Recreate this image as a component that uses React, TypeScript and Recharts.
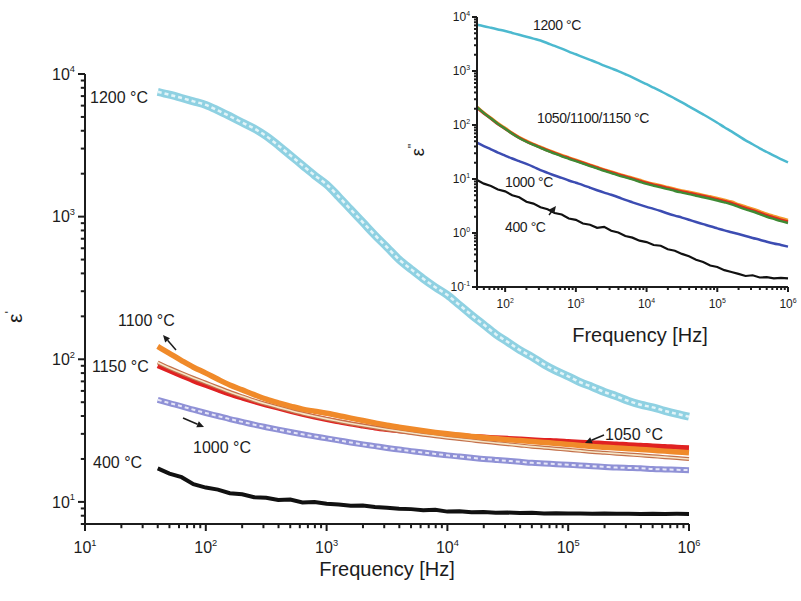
import React from "react";
import { LineChart, Line, XAxis, YAxis } from "recharts";

// frequency grid, Hz (same for main plot and inset)
const FREQ = [
  40, 50, 63, 79, 100, 126, 158, 200, 251, 316, 398, 501, 631, 794, 1000, 1259, 1585, 1995, 2512, 3162,
  3981, 5012, 6310, 7943, 10000, 12589, 15849, 19953, 25119, 31623, 39811, 50119, 63096, 79433, 100000,
  125893, 158489, 199526, 251189, 316228, 398107, 501187, 630957, 794328, 1000000,
];

// main plot: real permittivity
const EPS1_1200 = [
  7500, 7160, 6790, 6430, 6070, 5560, 5060, 4570, 4150, 3670, 3160, 2690, 2290, 1950, 1680, 1380, 1120, 912,
  741, 610, 500, 427, 367, 320, 282, 240, 204, 175, 150, 132, 116, 104, 92, 83, 76, 69, 64, 59, 55, 51, 48,
  46, 43.5, 41.4, 39.6,
];
const EPS1_1100 = [
  123, 110, 98, 88, 80, 72.4, 66, 61, 56.5, 52.5, 49.5, 47, 44.7, 43.2, 41.8, 40.2, 38.7, 37.2, 35.8, 34.5,
  33.4, 32.4, 31.5, 30.7, 30.0, 29.4, 28.8, 28.3, 27.8, 27.3, 26.9, 26.5, 26.1, 25.7, 25.3, 24.9, 24.5, 24.2,
  23.9, 23.6, 23.3, 23.0, 22.7, 22.4, 22.1,
];
const EPS1_1150 = [
  95, 87, 80, 74, 68.5, 63.5, 59, 55, 51.5, 48.5, 46, 43.7, 41.6, 39.8, 38.2, 36.8, 35.5, 34.3, 33.2, 32.2,
  31.3, 30.4, 29.6, 28.9, 28.2, 27.6, 27, 26.4, 25.9, 25.4, 24.9, 24.4, 24, 23.6, 23.2, 22.8, 22.4, 22.1,
  21.8, 21.5, 21.2, 20.9, 20.6, 20.3, 20.0,
];
const EPS1_1050 = [
  90, 83, 76.5, 70.5, 65.5, 61, 57, 53.5, 50.5, 47.8, 45.4, 43.2, 41.2, 39.4, 37.8, 36.4, 35.1, 34, 33, 32.2,
  31.5, 30.9, 30.4, 30, 29.6, 29.2, 28.8, 28.5, 28.2, 27.9, 27.6, 27.3, 27, 26.8, 26.5, 26.2, 26, 25.7, 25.5,
  25.2, 25, 24.7, 24.5, 24.2, 24.0,
];
const EPS1_1000 = [
  52, 49.3, 46.8, 44.3, 42, 40, 38.1, 36.4, 34.8, 33.4, 32.1, 30.9, 29.8, 28.8, 27.9, 27, 26.1, 25.3, 24.6,
  23.9, 23.3, 22.7, 22.2, 21.7, 21.2, 20.8, 20.4, 20, 19.7, 19.4, 19.1, 18.8, 18.6, 18.4, 18.2, 18, 17.8,
  17.6, 17.4, 17.3, 17.2, 17.0, 16.9, 16.8, 16.7,
];
const EPS1_400 = [
  17.2, 15.8, 14.9, 13.3, 12.6, 12.2, 11.5, 11.3, 10.8, 10.7, 10.3, 10.4, 9.9, 10.0, 9.7, 9.6, 9.4, 9.45,
  9.2, 9.1, 8.95, 8.9, 8.75, 8.8, 8.55, 8.6, 8.45, 8.5, 8.4, 8.42, 8.35, 8.38, 8.3, 8.33, 8.28, 8.3, 8.26,
  8.28, 8.25, 8.27, 8.24, 8.26, 8.23, 8.25, 8.24,
];

// inset: imaginary permittivity
const EPS2_1200 = [
  7160, 6760, 6310, 5890, 5500, 5070, 4680, 4315, 3980, 3670, 3270, 2920, 2590, 2290, 2040, 1810, 1610, 1430,
  1260, 1120, 995, 871, 759, 653, 569, 490, 422, 363, 309, 263, 221, 186, 157, 132, 110, 91, 76, 63, 52, 44,
  37, 31.6, 27, 23.4, 20.4,
];
const EPS2_1100 = [
  218, 169, 135, 108, 88, 71.5, 59.5, 51, 44.5, 39.3, 34.7, 31, 27.7, 25, 22.6, 20.4, 18.4, 16.6, 15, 13.7,
  12.5, 11.4, 10.5, 9.6, 8.75, 8.1, 7.6, 7.05, 6.55, 6.1, 5.75, 5.4, 5.05, 4.75, 4.45, 4.1, 3.8, 3.4, 3.08,
  2.8, 2.52, 2.26, 2.06, 1.88, 1.74,
];
const EPS2_1050 = [
  210, 164, 131, 104, 85, 69.5, 58, 49.7, 43.5, 38.4, 33.9, 30.3, 27, 24.4, 22.0, 19.9, 17.9, 16.2, 14.6,
  13.3, 12.1, 11.1, 10.15, 9.25, 8.45, 7.8, 7.3, 6.8, 6.3, 5.85, 5.5, 5.15, 4.85, 4.5, 4.2, 3.9, 3.6, 3.22,
  2.9, 2.64, 2.37, 2.12, 1.93, 1.76, 1.62,
];
const EPS2_1150 = [
  214, 166, 132, 105, 85, 69, 57.5, 49, 42.7, 37.6, 33.1, 29.5, 26.3, 23.7, 21.4, 19.3, 17.4, 15.7, 14.1,
  12.9, 11.7, 10.7, 9.8, 8.9, 8.1, 7.5, 7.0, 6.5, 6.0, 5.6, 5.25, 4.9, 4.6, 4.3, 4.0, 3.7, 3.4, 3.05, 2.75,
  2.5, 2.24, 2.0, 1.82, 1.66, 1.53,
];
const EPS2_1000 = [
  47, 40.7, 35.5, 30.9, 27.2, 24, 21.4, 19, 16.8, 14.6, 13, 11.6, 10.5, 9.4, 8.5, 7.7, 6.9, 6.2, 5.6, 5.1,
  4.6, 4.1, 3.7, 3.35, 3.05, 2.8, 2.55, 2.3, 2.1, 1.93, 1.76, 1.6, 1.46, 1.33, 1.22, 1.12, 1.035, 0.955,
  0.88, 0.81, 0.75, 0.69, 0.64, 0.6, 0.56,
];
const EPS2_400 = [
  9.6, 8.2, 7.4, 6.4, 5.9, 5.0, 4.6, 3.8, 3.5, 3.0, 2.75, 2.35, 2.2, 1.85, 1.75, 1.5, 1.42, 1.25, 1.3, 1.1,
  1.02, 0.88, 0.82, 0.72, 0.68, 0.6, 0.58, 0.5, 0.47, 0.41, 0.37, 0.32, 0.29, 0.25, 0.235, 0.205, 0.19,
  0.175, 0.16, 0.165, 0.15, 0.152, 0.145, 0.148, 0.145,
];

// axis decades
const MAIN_X_MAJOR = [10, 100, 1000, 10000, 100000, 1000000];
const MAIN_Y_MAJOR = [10, 100, 1000, 10000];
const INSET_X_MAJOR = [100, 1000, 10000, 100000, 1000000];
const INSET_Y_MAJOR = [0.1, 1, 10, 100, 1000, 10000];
const MINOR_STEPS = [2, 3, 4, 5, 6, 7, 8, 9];

const MAIN_X_DOMAIN = [10, 1000000];
const MAIN_Y_DOMAIN = [7, 10000];
const INSET_X_DOMAIN = [40, 1000000];
const INSET_Y_DOMAIN = [0.1, 10000];

const FONT = "'Liberation Sans', Arial, sans-serif";
const INK = "#1c1c1c";

// plot rectangles (page pixels), must match the chart margins below
const MAIN_BOX = { left: 85, right: 689, top: 74, bottom: 524 };
const INSET_BOX = { left: 477, right: 788, top: 17, bottom: 287 };

// majors plus 2..9 x decade minors that fall inside [lo, hi]
const withMinors = (majors: number[], lo: number, hi: number) => {
  const all: number[] = [...majors];
  [majors[0] / 10, ...majors].forEach((d) => MINOR_STEPS.forEach((m) => all.push(m * d)));
  return all.filter((v) => v >= lo - 1e-9 && v <= hi + 1e-9).sort((a, b) => a - b);
};

const mainData = FREQ.map((f, i) => ({
  f,
  c1200: EPS1_1200[i],
  c1100: EPS1_1100[i],
  c1150: EPS1_1150[i],
  c1050: EPS1_1050[i],
  c1000: EPS1_1000[i],
  c400: EPS1_400[i],
}));

const insetData = FREQ.map((f, i) => ({
  f,
  c1200: EPS2_1200[i],
  c1100: EPS2_1100[i],
  c1050: EPS2_1050[i],
  c1150: EPS2_1150[i],
  c1000: EPS2_1000[i],
  c400: EPS2_400[i],
}));

const isMajor = (v: number) => {
  const e = Math.log10(v);
  return Math.abs(e - Math.round(e)) < 1e-6;
};
const expOf = (v: number) => Math.round(Math.log10(v));

const makeXLabel = (fs: number, dy: number) => (props: any) => {
  const { x, y, payload } = props;
  if (!isMajor(payload.value)) return <g />;
  return (
    <text x={x} y={y + dy} textAnchor="middle" fontSize={fs} fill={INK} fontFamily={FONT}>
      10
      <tspan dy={-fs * 0.45} fontSize={fs * 0.58}>
        {expOf(payload.value)}
      </tspan>
    </text>
  );
};

const makeYLabel = (fs: number, gap: number) => (props: any) => {
  const { x, y, payload } = props;
  if (!isMajor(payload.value)) return <g />;
  return (
    <text x={x - gap} y={y + fs * 0.35} textAnchor="end" fontSize={fs} fill={INK} fontFamily={FONT}>
      10
      <tspan dy={-fs * 0.45} fontSize={fs * 0.58}>
        {expOf(payload.value)}
      </tspan>
    </text>
  );
};

// log-axis tick marks, outward from the axis lines
function LogTicks({ box, xd, yd, xt, yt, len }: any) {
  const lx = (v: number) =>
    box.left + ((Math.log10(v) - Math.log10(xd[0])) / (Math.log10(xd[1]) - Math.log10(xd[0]))) * (box.right - box.left);
  const ly = (v: number) =>
    box.bottom - ((Math.log10(v) - Math.log10(yd[0])) / (Math.log10(yd[1]) - Math.log10(yd[0]))) * (box.bottom - box.top);
  return (
    <g stroke={INK} strokeWidth={2}>
      {xt.map((v: number) => {
        const l = isMajor(v) ? len : len * 0.6;
        const x = lx(v);
        return <line key={"x" + v} x1={x} x2={x} y1={box.bottom} y2={box.bottom + l} />;
      })}
      {yt.map((v: number) => {
        const l = isMajor(v) ? len : len * 0.6;
        const y = ly(v);
        return <line key={"y" + v} x1={box.left} x2={box.left - l} y1={y} y2={y} />;
      })}
    </g>
  );
}

function Arrow({ x1, y1, x2, y2 }: { x1: number; y1: number; x2: number; y2: number }) {
  const a = Math.atan2(y2 - y1, x2 - x1);
  const L = 7;
  const W = 3.2;
  const bx = x2 - L * Math.cos(a);
  const by = y2 - L * Math.sin(a);
  const px = -Math.sin(a) * W;
  const py = Math.cos(a) * W;
  return (
    <g>
      <line x1={x1} y1={y1} x2={bx} y2={by} stroke={INK} strokeWidth={1.5} />
      <polygon points={`${x2},${y2} ${bx + px},${by + py} ${bx - px},${by - py}`} fill={INK} />
    </g>
  );
}

const mainXTicks = withMinors(MAIN_X_MAJOR, MAIN_X_DOMAIN[0], MAIN_X_DOMAIN[1]);
const mainYTicks = withMinors(MAIN_Y_MAJOR, MAIN_Y_DOMAIN[0], MAIN_Y_DOMAIN[1]);
const insetXTicks = withMinors(INSET_X_MAJOR, INSET_X_DOMAIN[0], INSET_X_DOMAIN[1]);
const insetYTicks = withMinors(INSET_Y_MAJOR, INSET_Y_DOMAIN[0], INSET_Y_DOMAIN[1]);

const axisStroke = { stroke: INK, strokeWidth: 2 };

export default function App() {
  return (
    <div style={{ position: "absolute", left: 0, top: 0, width: 801, height: 601, background: "#fff", fontFamily: FONT }}>
      <div style={{ position: "absolute", left: 0, top: 0 }}>
        <LineChart width={801} height={601} data={mainData} margin={{ top: 74, right: 112, bottom: 47, left: 25 }}>
          <XAxis
            dataKey="f"
            type="number"
            scale="log"
            domain={MAIN_X_DOMAIN}
            ticks={MAIN_X_MAJOR}
            interval={0}
            tickSize={0}
            tickMargin={0}
            tickLine={false}
            height={30}
            axisLine={axisStroke}
            tick={makeXLabel(16, 29)}
          />
          <YAxis
            type="number"
            scale="log"
            domain={MAIN_Y_DOMAIN}
            ticks={MAIN_Y_MAJOR}
            interval={0}
            tickSize={0}
            tickMargin={0}
            tickLine={false}
            width={60}
            axisLine={axisStroke}
            tick={makeYLabel(16, 10)}
          />
          <Line dataKey="c1200" type="monotone" stroke="#8fd1e2" strokeWidth={8} dot={false} isAnimationActive={false} />
          <Line dataKey="c1200" type="monotone" stroke="#e2f4f8" strokeWidth={2.5} strokeDasharray="4 3" dot={false} isAnimationActive={false} />
          <Line dataKey="c1000" type="monotone" stroke="#8f91d6" strokeWidth={6} dot={false} isAnimationActive={false} />
          <Line dataKey="c1000" type="monotone" stroke="#e6e6f7" strokeWidth={2} strokeDasharray="4 3" dot={false} isAnimationActive={false} />
          <Line dataKey="c1050" type="monotone" stroke="#e02222" strokeWidth={5} dot={false} isAnimationActive={false} />
          <Line dataKey="c1150" type="monotone" stroke="#c4704a" strokeWidth={4} dot={false} isAnimationActive={false} />
          <Line dataKey="c1150" type="monotone" stroke="#f4e6c8" strokeWidth={1.6} dot={false} isAnimationActive={false} />
          <Line dataKey="c1100" type="monotone" stroke="#f08a2a" strokeWidth={5.5} dot={false} isAnimationActive={false} />
          <Line dataKey="c400" type="linear" stroke="#111" strokeWidth={4} dot={false} isAnimationActive={false} />
        </LineChart>
      </div>

      <div style={{ position: "absolute", left: 400, top: 0 }}>
        <LineChart width={401} height={360} data={insetData} margin={{ top: 17, right: 13, bottom: 43, left: 37 }}>
          <XAxis
            dataKey="f"
            type="number"
            scale="log"
            domain={INSET_X_DOMAIN}
            ticks={INSET_X_MAJOR}
            interval={0}
            tickSize={0}
            tickMargin={0}
            tickLine={false}
            height={30}
            axisLine={axisStroke}
            tick={makeXLabel(12, 21)}
          />
          <YAxis
            type="number"
            scale="log"
            domain={INSET_Y_DOMAIN}
            ticks={INSET_Y_MAJOR}
            interval={0}
            tickSize={0}
            tickMargin={0}
            tickLine={false}
            width={40}
            axisLine={axisStroke}
            tick={makeYLabel(12, 7)}
          />
          <Line dataKey="c1200" type="monotone" stroke="#4cb9cf" strokeWidth={2.5} dot={false} isAnimationActive={false} />
          <Line dataKey="c1100" type="monotone" stroke="#f39a2c" strokeWidth={2.8} dot={false} isAnimationActive={false} />
          <Line dataKey="c1050" type="monotone" stroke="#e02a1e" strokeWidth={2.8} dot={false} isAnimationActive={false} />
          <Line dataKey="c1150" type="monotone" stroke="#3f8a34" strokeWidth={2.4} dot={false} isAnimationActive={false} />
          <Line dataKey="c1000" type="monotone" stroke="#3c4cb2" strokeWidth={2.5} dot={false} isAnimationActive={false} />
          <Line dataKey="c400" type="linear" stroke="#111" strokeWidth={2.2} dot={false} isAnimationActive={false} />
        </LineChart>
      </div>

      <svg width={801} height={601} style={{ position: "absolute", left: 0, top: 0, pointerEvents: "none" }}>
        <LogTicks box={MAIN_BOX} xd={MAIN_X_DOMAIN} yd={MAIN_Y_DOMAIN} xt={mainXTicks} yt={mainYTicks} len={7} />
        <LogTicks box={INSET_BOX} xd={INSET_X_DOMAIN} yd={INSET_Y_DOMAIN} xt={insetXTicks} yt={insetYTicks} len={5} />
        <g fontFamily={FONT} fill={INK}>
          {/* main axis titles */}
          <text x={387} y={576} textAnchor="middle" fontSize={20}>Frequency [Hz]</text>
          <text x={22} y={317} textAnchor="middle" fontSize={21} transform="rotate(-90 22 317)">
            ε<tspan dy={-8} fontSize={13}>'</tspan>
          </text>
          {/* main curve labels */}
          <text x={90} y={103} fontSize={16}>1200 °C</text>
          <text x={118} y={326} fontSize={16}>1100 °C</text>
          <text x={92} y={372} fontSize={16}>1150 °C</text>
          <text x={193} y={453} fontSize={16}>1000 °C</text>
          <text x={93} y={468} fontSize={16}>400 °C</text>
          <text x={605} y={440} fontSize={16}>1050 °C</text>
          <Arrow x1={176} y1={350} x2={163} y2={335} />
          <Arrow x1={183} y1={418} x2={204} y2={427} />
          <Arrow x1={604} y1={435} x2={585} y2={443} />
          {/* inset titles */}
          <text x={640} y={342} textAnchor="middle" fontSize={20}>Frequency [Hz]</text>
          <text x={424} y={150} textAnchor="middle" fontSize={18} transform="rotate(-90 424 150)">
            ε<tspan dy={-7} fontSize={12}>''</tspan>
          </text>
          <text x={533} y={30} fontSize={14} letterSpacing={-0.4}>1200 °C</text>
          <text x={537} y={123} fontSize={14} letterSpacing={-0.4}>1050/1100/1150 °C</text>
          <text x={505} y={187} fontSize={14} letterSpacing={-0.4}>1000 °C</text>
          <text x={505} y={232} fontSize={14} letterSpacing={-0.4}>400 °C</text>
          <Arrow x1={549} y1={215} x2={556} y2={206} />
        </g>
      </svg>
    </div>
  );
}
